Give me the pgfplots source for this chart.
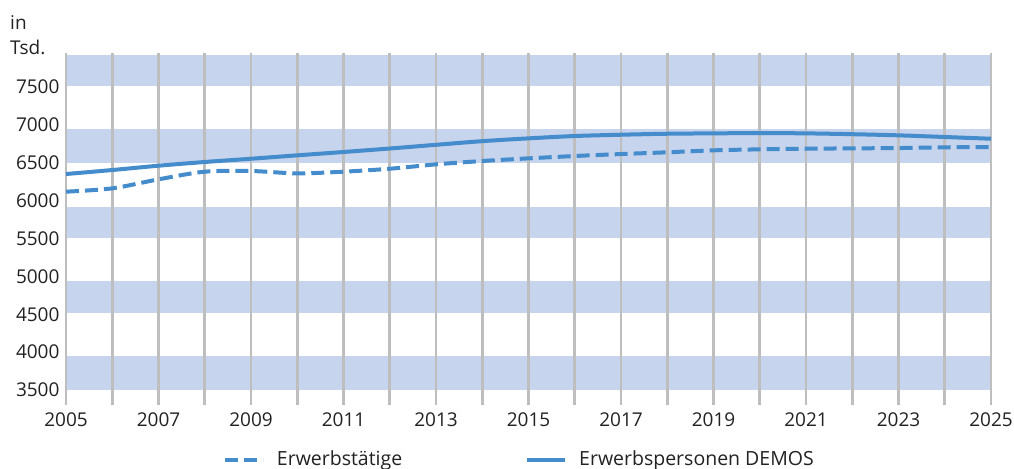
\documentclass[border=0pt]{standalone}
\usepackage{fontspec}
\setmainfont{Open Sans}
\usepackage{pgfplots}
\pgfplotsset{compat=1.18}
\definecolor{lineblue}{HTML}{448CCC}
\definecolor{bandblue}{HTML}{C6D4EE}
\definecolor{gridgray}{HTML}{BEBEBE}
\definecolor{txt}{HTML}{222222}
\begin{document}
\begin{tikzpicture}
\fontsize{19bp}{23bp}\selectfont
\begin{axis}[
  set layers,
  at={(66bp,64bp)}, anchor=south west,
  scale only axis, width=925bp, height=352bp,
  xmin=2005, xmax=2025, ymin=3302, ymax=7949,
  clip=false,
  axis line style={draw=none},
  tick style={draw=none},
  xtick={2005,2007,...,2025},
  minor xtick={2006,2008,...,2024},
  ytick={3500,4000,...,7500},
  xmajorgrids, xminorgrids,
  major grid style={gridgray, line width=2.6bp},
  minor grid style={gridgray, line width=2.6bp},
  /pgf/number format/assume math mode=true,
  /pgf/number format/1000 sep={},
  ticklabel style={font=\fontsize{19bp}{23bp}\selectfont, text=txt},
  xticklabel style={yshift=-1.5bp},
  legend style={draw=none, fill=none, at={(0.1697,-0.156)}, anchor=west,
    inner sep=0pt, outer sep=0pt,
    font=\fontsize{19.5bp}{23bp}\selectfont, text=txt,
    /tikz/every even column/.append style={column sep=121bp}},
  legend columns=2,
  legend image code/.code={\draw[#1] (0bp,0bp) -- (38bp,0bp);\path (48bp,0bp);},
]
\begin{pgfonlayer}{axis background}
\fill[bandblue] (axis cs:2005,3500) rectangle (axis cs:2025,3947);
\fill[bandblue] (axis cs:2005,4513) rectangle (axis cs:2025,4935);
\fill[bandblue] (axis cs:2005,5505) rectangle (axis cs:2025,5915);
\fill[bandblue] (axis cs:2005,6500) rectangle (axis cs:2025,6943);
\fill[bandblue] (axis cs:2005,7512) rectangle (axis cs:2025,7922);
\end{pgfonlayer}
\addplot[lineblue, line width=4bp, smooth, dash pattern=on 13bp off 6bp] coordinates {
(2005,6118) (2006,6162) (2007,6281) (2008,6382) (2009,6391) (2010,6360)
(2011,6382) (2012,6421) (2013,6479) (2014,6523) (2015,6558) (2016,6589)
(2017,6615) (2018,6638) (2019,6664) (2020,6677) (2021,6685) (2022,6690)
(2023,6694) (2024,6704) (2025,6708)};
\addlegendentry{Erwerbstätige}
\addplot[lineblue, line width=4bp, smooth] coordinates {
(2005,6351) (2006,6404) (2007,6461) (2008,6510) (2009,6553) (2010,6598)
(2011,6642) (2012,6688) (2013,6737) (2014,6785) (2015,6822) (2016,6853)
(2017,6870) (2018,6883) (2019,6888) (2020,6892) (2021,6888) (2022,6877)
(2023,6862) (2024,6840) (2025,6817)};
\addlegendentry{Erwerbspersonen DEMOS}
\end{axis}
\node[anchor=base west, text=txt, inner sep=0pt] at (10bp,439bp) {in};
\node[anchor=base west, text=txt, inner sep=0pt] at (10bp,414bp) {Tsd.};
\pgfresetboundingbox
\useasboundingbox (0,0) rectangle (1014bp,469bp);
\end{tikzpicture}
\end{document}
